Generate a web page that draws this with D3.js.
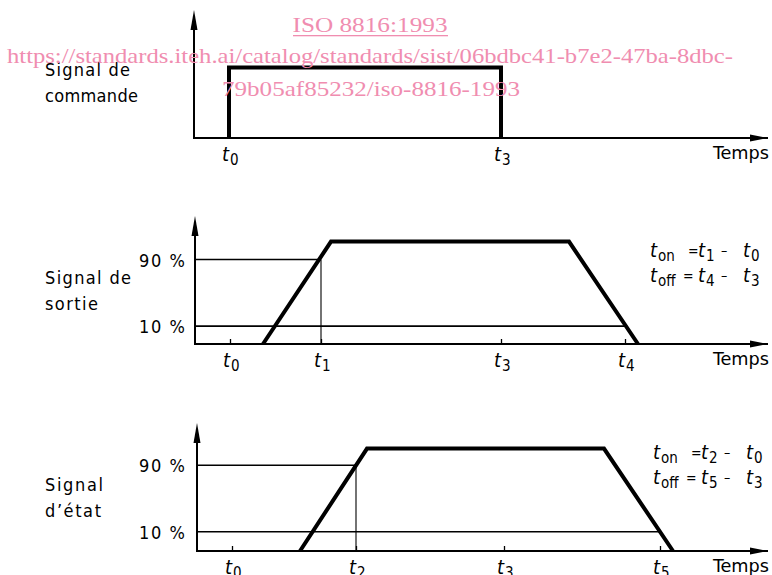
<!DOCTYPE html>
<html>
<head>
<meta charset="utf-8">
<script src="https://cdn.jsdelivr.net/npm/d3@7"></script>
<style>
    body { margin: 0; background: #ffffff; }
</style>
</head>
<body>
<div id="chart" style="width:772px;height:575px;"></div>
<script>
// temps en unités arbitraires (0 = axe vertical), niveaux en % de la hauteur d'axe
var panelLabels = [['Signal de', 'commande'], ['Signal de', 'sortie'], ['Signal', 'd\u2019\u00e9tat']];
var tickNames = [['0', '3'], ['0', '1', '3', '4'], ['0', '2', '3', '5']];
var tickTimes = [[35, 307], [35, 126, 306, 430], [35, 159, 307, 463]];
var sigTimes = [[35, 35, 307, 307], [68, 136, 374, 443], [103, 170, 407, 476]];
var sigLevels = [[0, 55, 55, 0], [0, 80, 80, 0], [0, 80, 80, 0]];
var level90 = [null, 66, 67];
var level10 = [null, 14, 15];
var crossOn = [null, 126, 159];   // fin de la ligne 90 %
var crossOff = [null, 430, 463];  // fin de la ligne 10 %
var eqOn = [null, ['1', '0'], ['2', '0']];
var eqOff = [null, ['4', '3'], ['5', '3']];
var watermark = ['ISO 8816:1993',
    'https://standards.iteh.ai/catalog/standards/sist/06bdbc41-b7e2-47ba-8dbc-',
    '79b05af85232/iso-8816-1993'];

var svgwidth = 772, svgheight = 575;
var _svg = d3.select('#chart').append('svg')
    .attr('width', svgwidth)
    .attr('height', svgheight);

var sans = '"DejaVu Sans Condensed", "DejaVu Sans", sans-serif';
// position de chaque panneau
var axisX = [194, 195, 197];
var baseY = [138, 344, 551];
var labelY = [76, 284, 491];
var labelW = [[85, 93], [86, 53], [58, 56]];
var axisH = 128;
var axisEnd = 768;

var defs = _svg.append('defs');
defs.append('marker').attr('id', 'arrR')
    .attr('viewBox', '0 0 18 8').attr('refX', 18).attr('refY', 4)
    .attr('markerWidth', 18).attr('markerHeight', 8)
    .attr('markerUnits', 'userSpaceOnUse').attr('orient', 'auto')
    .append('path').attr('d', 'M0,0.5 L18,4 L0,7.5 Z').attr('fill', '#000');

function subLabel(g, x, y, sub, size) {
    var t = g.append('text').attr('x', x).attr('y', y)
        .attr('font-family', sans).attr('fill', '#000');
    t.append('tspan').attr('font-size', size).attr('font-style', 'italic').text('t');
    t.append('tspan').attr('font-size', size * 0.75).attr('dy', 4).attr('dx', 1).text(sub);
    return t;
}

panelLabels.forEach(function (lab, p) {
    var g = _svg.append('g').attr('class', 'panel' + p);
    var x = d3.scaleLinear().domain([0, axisEnd - axisX[p]]).range([axisX[p], axisEnd]);
    var y = d3.scaleLinear().domain([0, 100]).range([baseY[p], baseY[p] - axisH]);

    // étiquette du signal
    g.selectAll('.lab').data(lab).enter().append('text')
        .attr('x', 45)
        .attr('y', function (d, i) { return labelY[p] + i * 26; })
        .attr('font-family', sans).attr('font-size', 18).attr('fill', '#000')
        .attr('textLength', function (d, i) { return labelW[p][i]; })
        .attr('lengthAdjust', 'spacing')
        .text(function (d) { return d; });

    // lignes 90 % / 10 %
    if (level90[p] !== null) {
        g.append('line').attr('x1', x(0)).attr('x2', x(crossOn[p]))
            .attr('y1', y(level90[p])).attr('y2', y(level90[p]))
            .attr('stroke', '#000').attr('stroke-width', 1.6);
        g.append('line').attr('x1', x(crossOn[p])).attr('x2', x(crossOn[p]))
            .attr('y1', y(level90[p])).attr('y2', y(0))
            .attr('stroke', '#000').attr('stroke-width', 1.1);
        g.append('line').attr('x1', x(0)).attr('x2', x(crossOff[p]))
            .attr('y1', y(level10[p])).attr('y2', y(level10[p]))
            .attr('stroke', '#000').attr('stroke-width', 1.6);
        [['90 %', level90[p]], ['10 %', level10[p]]].forEach(function (l) {
            g.append('text').attr('x', 139).attr('y', y(l[1]) + 7)
                .attr('font-family', sans).attr('font-size', 18).attr('fill', '#000')
                .attr('textLength', 46).attr('lengthAdjust', 'spacing')
                .text(l[0]);
        });
    }

    // axe des temps avec petites graduations
    var xAxis = d3.axisBottom(x).tickValues(tickTimes[p])
        .tickSizeInner(-5).tickSizeOuter(0).tickFormat('');
    var ax = g.append('g').attr('transform', 'translate(0,' + baseY[p] + ')').call(xAxis);
    ax.select('.domain').remove();
    ax.selectAll('.tick line').attr('stroke-width', 1.3);
    g.append('line').attr('x1', x(0) - 1).attr('x2', axisEnd)
        .attr('y1', y(0)).attr('y2', y(0))
        .attr('stroke', '#000').attr('stroke-width', 2)
        .attr('marker-end', 'url(#arrR)');
    // axe vertical avec flèche
    g.append('line').attr('x1', x(0)).attr('x2', x(0))
        .attr('y1', y(0) + 1).attr('y2', y(100) + 18)
        .attr('stroke', '#000').attr('stroke-width', 2);
    g.append('path')
        .attr('d', 'M' + x(0) + ',' + y(100) + ' L' + (x(0) + 3.5) + ',' + (y(100) + 20) +
            ' L' + (x(0) - 3.5) + ',' + (y(100) + 20) + ' Z')
        .attr('fill', '#000');

    // signal
    var pts = sigTimes[p].map(function (t, i) { return [t, sigLevels[p][i]]; });
    g.append('path').datum(pts)
        .attr('d', d3.line().x(function (d) { return x(d[0]); }).y(function (d) { return y(d[1]); }))
        .attr('fill', 'none').attr('stroke', '#000').attr('stroke-width', 4)
        .attr('stroke-linejoin', 'miter');

    // libellés des instants
    tickTimes[p].forEach(function (t, i) {
        subLabel(g, x(t) - 7, baseY[p] + 23, tickNames[p][i], 20);
    });
    g.append('text').attr('x', 713).attr('y', baseY[p] + 21)
        .attr('font-family', sans).attr('font-size', 18).attr('fill', '#000')
        .attr('textLength', 56).attr('lengthAdjust', 'spacingAndGlyphs')
        .text('Temps');

    // équations t_on / t_off
    if (eqOn[p] !== null) {
        var ey = p === 1 ? 257 : 459;
        var ex = p === 1 ? 650 : 653;
        [['on', eqOn[p], 0, 38], ['off', eqOff[p], 25, 33]].forEach(function (e) {
            subLabel(g, ex, ey + e[2], e[0], 20);
            g.append('text').attr('x', ex + e[3]).attr('y', ey + e[2] - 1).attr('font-family', sans)
                .attr('font-size', 14).attr('fill', '#000').text('=');
            subLabel(g, ex + 48, ey + e[2], e[1][0], 20);
            g.append('text').attr('x', ex + 71).attr('y', ey + e[2] - 2).attr('font-family', sans)
                .attr('font-size', 14).attr('fill', '#000').text('\u2013');
            subLabel(g, ex + 93, ey + e[2], e[1][1], 20);
        });
    }
});

// filigrane
var wm = _svg.append('g').attr('fill', '#f08db0')
    .attr('font-family', '"Liberation Serif", "Times New Roman", serif').attr('font-size', 22);
wm.append('text').attr('x', 370).attr('y', 32).attr('text-anchor', 'middle')
    .attr('textLength', 155).attr('lengthAdjust', 'spacingAndGlyphs').text(watermark[0]);
wm.append('rect').attr('x', 293).attr('y', 35).attr('width', 155).attr('height', 1.3);
wm.append('text').attr('x', 7).attr('y', 63)
    .attr('textLength', 726).attr('lengthAdjust', 'spacingAndGlyphs').text(watermark[1]);
wm.append('text').attr('x', 222).attr('y', 96)
    .attr('textLength', 298).attr('lengthAdjust', 'spacingAndGlyphs').text(watermark[2]);
</script>
</body>
</html>
